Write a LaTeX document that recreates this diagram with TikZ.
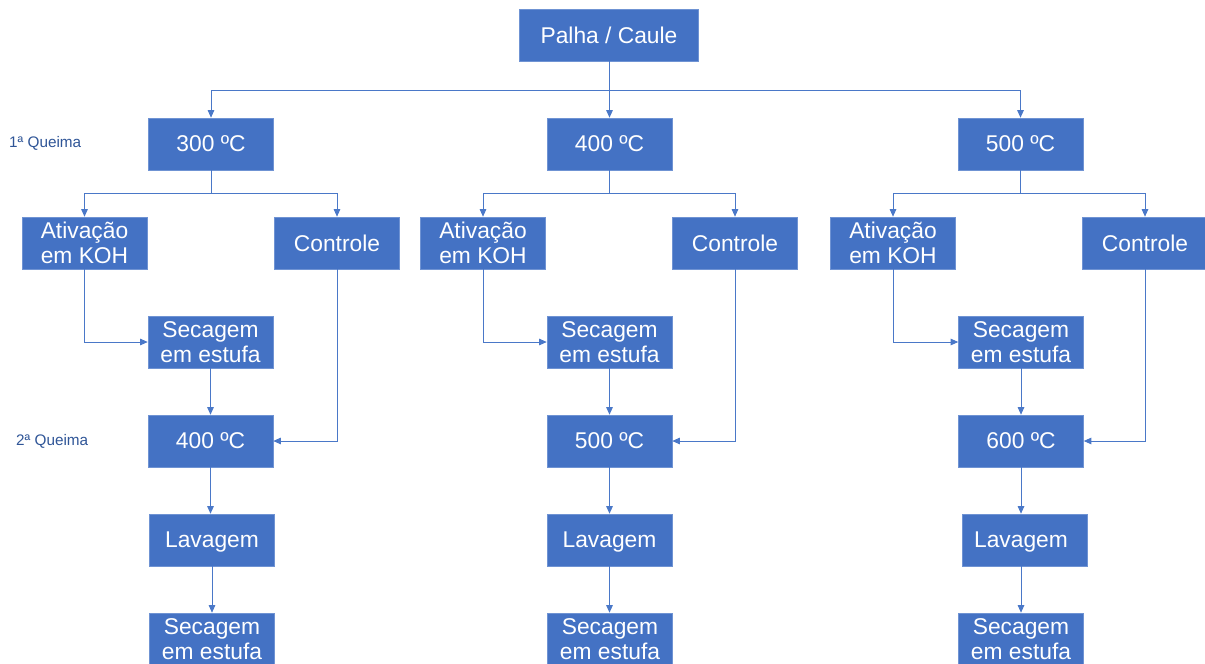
\documentclass[tikz,border=0pt]{standalone}
\usepackage{fontspec}
\setmainfont{Liberation Sans}
\usetikzlibrary{arrows.meta}
\definecolor{boxblue}{HTML}{4472C4}
\definecolor{boxedge}{HTML}{6F93D3}
\definecolor{linkblue}{HTML}{4A78C8}
\definecolor{labelblue}{HTML}{2F5597}
\begin{document}
\begin{tikzpicture}[x=1pt,y=-1pt,
  box/.style={fill=boxblue, draw=boxedge, line width=0.6pt, text=white,
    minimum width=125pt, minimum height=52pt, inner sep=0pt, align=center,
    text depth=0pt, font=\fontsize{22.8}{25}\selectfont},
  link/.style={draw=linkblue, line width=0.9pt, -{Triangle[width=6.5pt,length=7.5pt]}},
  stage/.style={text=labelblue, anchor=west, inner sep=0pt, text depth=0pt,
    font=\fontsize{15.3}{17}\selectfont}]
\useasboundingbox (0,0) rectangle (1205,664);

% source material
\node[box, minimum width=179pt] (palha) at (609,35) {Palha / Caule};

% first burning temperatures
\node[box] (ta) at (211,144) {300 ºC};
\node[box] (tb) at (609.5,144) {400 ºC};
\node[box] (tc) at (1020.5,144) {500 ºC};

% activation / control branches
\node[box] (ka) at (84.5,243) {Ativação\\em KOH};
\node[box] (ca) at (337,243) {Controle};
\node[box] (kb) at (483,243) {Ativação\\em KOH};
\node[box] (cb) at (735,243) {Controle};
\node[box] (kc) at (893,243) {Ativação\\em KOH};
\node[box] (cc) at (1145,243) {Controle};

% drying after activation
\node[box] (sa) at (210.5,342) {Secagem\\em estufa};
\node[box] (sb) at (609.5,342) {Secagem\\em estufa};
\node[box] (sc) at (1021,342) {Secagem\\em estufa};

% second burning temperatures
\node[box] (qa) at (210.5,441) {400 ºC};
\node[box] (qb) at (609.5,441) {500 ºC};
\node[box] (qc) at (1021,441) {600 ºC};

% washing
\node[box] (la) at (212,540) {Lavagem};
\node[box] (lb) at (609.5,540) {Lavagem};
\node[box] (lc) at (1024.5,540) {\hspace*{-7pt}Lavagem};

% final drying
\node[box] (fa) at (212,639) {Secagem\\em estufa};
\node[box] (fb) at (610,639) {Secagem\\em estufa};
\node[box] (fc) at (1021,639) {Secagem\\em estufa};

% stage labels
\node[stage] (q1lbl) at (9,142) {1ª Queima};
\node[stage] (q2lbl) at (16,439.5) {2ª Queima};

% bus levels
\coordinate (bus0) at (0,90);
\coordinate (bus1) at (0,193);

% source to first burning
\draw[link] (palha.south) -- (palha.south |- bus0) -| (ta.north);
\draw[link] (palha.south) -- (palha.south |- bus0) -| (tb.north);
\draw[link] (palha.south) -- (palha.south |- bus0) -| (tc.north);

% first burning to branches
\foreach \t/\k/\c in {ta/ka/ca, tb/kb/cb, tc/kc/cc}{
  \draw[link] (\t.south) -- (\t.south |- bus1) -| (\k.north);
  \draw[link] (\t.south) -- (\t.south |- bus1) -| (\c.north);
}

% activation to drying, control to second burning, drying to second burning
\foreach \k/\c/\s/\q in {ka/ca/sa/qa, kb/cb/sb/qb, kc/cc/sc/qc}{
  \draw[link] (\k.south) |- (\s.west);
  \draw[link] (\c.south) |- (\q.east);
  \draw[link] (\s.south) -- (\q.north);
}

% washing and final drying
\draw[link] (qa.south) -- (qa.south |- la.north);
\draw[link] (la.south) -- (la.south |- fa.north);
\draw[link] (qb.south) -- (qb.south |- lb.north);
\draw[link] (lb.south) -- (lb.south |- fb.north);
\draw[link] (qc.south) -- (qc.south |- lc.north);
\draw[link] (qc.south |- lc.south) -- (qc.south |- fc.north);
\end{tikzpicture}
\end{document}
